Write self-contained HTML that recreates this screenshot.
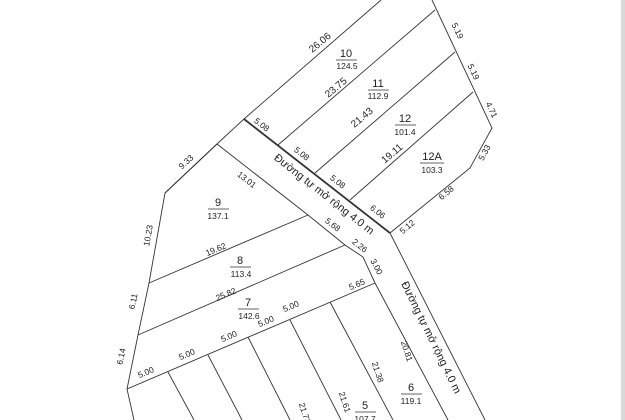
<!DOCTYPE html>
<html><head><meta charset="utf-8"><style>
body{margin:0;background:#fff;}
svg{display:block;}
text{font-family:"Liberation Sans",sans-serif;fill:#222;font-size:10px;text-anchor:middle;}
.s{font-size:8.5px;}
.b{font-size:11px;}
</style></head><body>
<svg width="625" height="420" viewBox="0 0 625 420" xmlns="http://www.w3.org/2000/svg">
<rect x="0" y="0" width="625" height="420" fill="#fff"/>
<rect x="621" y="0" width="4" height="420" fill="#d8d8d8"/>
<g stroke="#333" stroke-width="0.9" fill="none">
<polyline points="165,193 217,144 244,119 381,0"/>
<polyline points="217,144 165,193 149,283 138,335 127,389 134,420"/>
<polyline points="432,0 492,128 470,168 390,233"/>
<line x1="244" y1="119" x2="390" y2="233" stroke-width="1.8"/>
<line x1="278" y1="145" x2="435" y2="10"/>
<line x1="315" y1="173" x2="455" y2="52"/>
<line x1="350" y1="200" x2="473" y2="92"/>
<polyline points="217,144 308,215 345,245 363,257 375,283 448,420"/>
<line x1="390" y1="233" x2="485" y2="420"/>
<line x1="149" y1="283" x2="308" y2="215"/>
<line x1="138" y1="335" x2="345" y2="245"/>
<line x1="127" y1="389" x2="375" y2="283"/>
<line x1="168" y1="372" x2="194" y2="420"/>
<line x1="208" y1="355" x2="242" y2="420"/>
<line x1="248" y1="337" x2="290" y2="420"/>
<line x1="290" y1="320" x2="341" y2="420"/>
<line x1="330" y1="302" x2="393" y2="420"/>
</g>
<g>
<text class="b" x="346" y="57">10</text><line x1="336" y1="60" x2="357" y2="60" stroke="#333" stroke-width="0.7"/><text class="s" x="347" y="69">124.5</text>
<text class="b" x="378" y="87">11</text><line x1="368" y1="90" x2="389" y2="90" stroke="#333" stroke-width="0.7"/><text class="s" x="378" y="99">112.9</text>
<text class="b" x="405" y="122">12</text><line x1="395" y1="125" x2="416" y2="125" stroke="#333" stroke-width="0.7"/><text class="s" x="405" y="135">101.4</text>
<text class="b" x="432" y="160">12A</text><line x1="420" y1="163" x2="444" y2="163" stroke="#333" stroke-width="0.7"/><text class="s" x="432" y="173">103.3</text>
<text class="b" x="218" y="206">9</text><line x1="208" y1="209" x2="229" y2="209" stroke="#333" stroke-width="0.7"/><text class="s" x="218" y="219">137.1</text>
<text class="b" x="240" y="264">8</text><line x1="230" y1="267" x2="251" y2="267" stroke="#333" stroke-width="0.7"/><text class="s" x="241" y="277">113.4</text>
<text class="b" x="248" y="306">7</text><line x1="238" y1="309" x2="259" y2="309" stroke="#333" stroke-width="0.7"/><text class="s" x="249" y="319">142.6</text>
<text class="b" x="411" y="391">6</text><line x1="401" y1="394" x2="422" y2="394" stroke="#333" stroke-width="0.7"/><text class="s" x="411" y="404">119.1</text>
<text class="b" x="365" y="409">5</text><line x1="355" y1="412" x2="376" y2="412" stroke="#333" stroke-width="0.7"/><text class="s" x="365" y="422">107.7</text>
</g>
<g>
<text transform="translate(322,45) rotate(-40)">26.06</text>
<text transform="translate(338,90) rotate(-40)">23.75</text>
<text transform="translate(364,120) rotate(-40)">21.43</text>
<text transform="translate(394,156) rotate(-40)">19.11</text>
<text class="s" transform="translate(455,32) rotate(64)">5.19</text>
<text class="s" transform="translate(471,73) rotate(64)">5.19</text>
<text class="s" transform="translate(489,111) rotate(64)">4.71</text>
<text class="s" transform="translate(487,154) rotate(-62)">5.33</text>
<text class="s" transform="translate(448,195) rotate(-40)">6.58</text>
<text class="s" transform="translate(409,229) rotate(-40)">5.12</text>
<text class="s" transform="translate(260,127) rotate(38)">5.08</text>
<text class="s" transform="translate(300,156) rotate(38)">5.08</text>
<text class="s" transform="translate(336,184) rotate(38)">5.08</text>
<text class="s" transform="translate(376,214) rotate(38)">6.06</text>
<text class="s" transform="translate(245,182) rotate(38)">13.01</text>
<text class="s" transform="translate(331,227) rotate(38)">5.68</text>
<text class="s" transform="translate(358,248) rotate(38)">2.26</text>
<text class="s" transform="translate(374,268) rotate(62)">3.00</text>
<text class="s" transform="translate(188,164) rotate(-43)">9.33</text>
<text class="s" transform="translate(151,236) rotate(-80)">10.23</text>
<text class="s" transform="translate(136,302) rotate(-78)">6.11</text>
<text class="s" transform="translate(124,357) rotate(-78)">6.14</text>
<text class="s" transform="translate(217,252) rotate(-23)">19.62</text>
<text class="s" transform="translate(227,297) rotate(-23)">25.82</text>
<text class="s" transform="translate(358,287) rotate(-23)">5.65</text>
<text class="s" transform="translate(292,309) rotate(-23)">5.00</text>
<text class="s" transform="translate(267,324) rotate(-23)">5.00</text>
<text class="s" transform="translate(230,339) rotate(-23)">5.00</text>
<text class="s" transform="translate(188,357) rotate(-23)">5.00</text>
<text class="s" transform="translate(147,375) rotate(-23)">5.00</text>
<text class="s" transform="translate(404,352) rotate(72)">20.81</text>
<text class="s" transform="translate(375,373) rotate(72)">21.38</text>
<text class="s" transform="translate(342,403) rotate(72)">21.61</text>
<text class="s" transform="translate(302,414) rotate(72)">21.73</text>
<text class="b" transform="translate(322,197) rotate(38)">Đường tự mở rộng 4.0 m</text>
<text class="b" transform="translate(428,339) rotate(64)">Đường tự mở rộng 4.0 m</text>
</g>
</svg>
</body></html>
